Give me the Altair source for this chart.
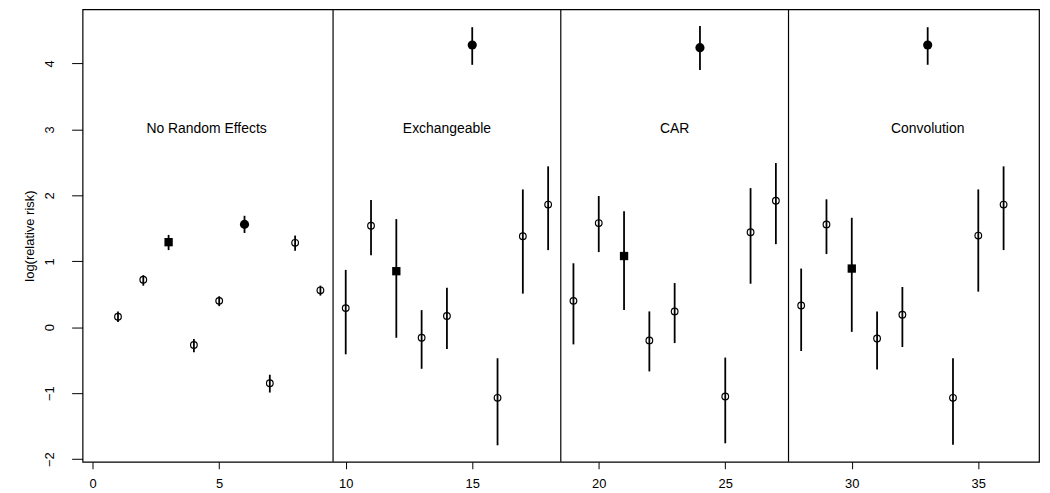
import altair as alt
import pandas as pd

# area index
area = list(range(1, 37))
# point estimates of log(relative risk)
est = [0.16, 0.72, 1.29, -0.27, 0.40, 1.56, -0.85, 1.28, 0.56,
       0.29, 1.54, 0.85, -0.16, 0.17, 4.28, -1.07, 1.38, 1.86,
       0.40, 1.58, 1.08, -0.20, 0.24, 4.24, -1.05, 1.44, 1.92,
       0.33, 1.56, 0.89, -0.17, 0.19, 4.28, -1.07, 1.39, 1.86]
# lower interval limits
lower = [0.08, 0.63, 1.17, -0.38, 0.32, 1.43, -0.99, 1.16, 0.48,
         -0.41, 1.09, -0.16, -0.63, -0.33, 3.98, -1.79, 0.51, 1.17,
         -0.26, 1.14, 0.26, -0.67, -0.24, 3.90, -1.76, 0.66, 1.26,
         -0.36, 1.11, -0.07, -0.64, -0.30, 3.98, -1.78, 0.54, 1.17]
# upper interval limits
upper = [0.24, 0.79, 1.40, -0.18, 0.47, 1.69, -0.72, 1.39, 0.63,
         0.87, 1.93, 1.64, 0.26, 0.60, 4.55, -0.47, 2.09, 2.44,
         0.97, 1.99, 1.76, 0.24, 0.67, 4.57, -0.46, 2.11, 2.49,
         0.89, 1.94, 1.66, 0.24, 0.61, 4.55, -0.47, 2.09, 2.44]
# marker kind per area
kind = (["open", "open", "square", "open", "open", "filled", "open", "open", "open"]
        + ["open", "open", "square", "open", "open", "filled", "open", "open", "open"]
        + ["open", "open", "square", "open", "open", "filled", "open", "open", "open"]
        + ["open", "open", "square", "open", "open", "filled", "open", "open", "open"])

# panel dividers and labels
divider_x = [9.5, 18.5, 27.5]
panel_names = ["No Random Effects", "Exchangeable", "CAR", "Convolution"]
panel_x = [4.5, 14.0, 23.0, 33.0]
panel_y = [3.0, 3.0, 3.0, 3.0]

x_ticks = [0, 5, 10, 15, 20, 25, 30, 35]
y_ticks = [-2, -1, 0, 1, 2, 3, 4]

df = pd.DataFrame({"area": area, "est": est, "lo": lower, "hi": upper, "kind": kind})
div_df = pd.DataFrame({"x": divider_x})
lab_df = pd.DataFrame({"x": panel_x, "y": panel_y, "name": panel_names})

FONT = "Liberation Sans"
PLOT_W = 962
PLOT_H = 455

xscale = alt.Scale(domain=[-0.4, 37.4], nice=False, zero=False)
yscale = alt.Scale(domain=[-2.04, 4.82], nice=False, zero=False)

xaxis = alt.Axis(values=x_ticks, format="d", title=None, grid=False, domain=False,
                 tickSize=7, tickColor="black", labelPadding=9,
                 labelFontSize=13, labelColor="black", labelFont=FONT)
yaxis = alt.Axis(values=y_ticks, format="d", title="log(relative risk)", grid=False,
                 domain=False, tickSize=11, tickColor="black", labelAngle=270,
                 labelAlign="center", labelBaseline="alphabetic", labelPadding=18,
                 labelFontSize=13, labelColor="black", labelFont=FONT,
                 titleFontSize=13, titleFontWeight="normal", titleColor="black",
                 titleFont=FONT, titleAngle=270, titleAlign="center",
                 titleBaseline="middle", titleX=-53, titleY=PLOT_H / 2)

base = alt.Chart(df)

rules = base.mark_rule(color="black", strokeWidth=1.8).encode(
    x=alt.X("area:Q", scale=xscale, axis=xaxis),
    y=alt.Y("lo:Q", scale=yscale, axis=yaxis),
    y2="hi:Q",
)

open_pts = base.transform_filter(alt.datum.kind == "open").mark_point(
    shape="circle", filled=False, size=45, color="black", strokeWidth=1.2, opacity=1
).encode(x="area:Q", y="est:Q")

filled_pts = base.transform_filter(alt.datum.kind == "filled").mark_point(
    shape="circle", filled=True, size=85, color="black", opacity=1
).encode(x="area:Q", y="est:Q")

square_pts = base.transform_filter(alt.datum.kind == "square").mark_point(
    shape="square", filled=True, size=70, color="black", opacity=1
).encode(x="area:Q", y="est:Q")

dividers = alt.Chart(div_df).mark_rule(color="black", strokeWidth=1.2).encode(
    x="x:Q"
)

labels = alt.Chart(lab_df).mark_text(
    font=FONT, fontSize=14, color="black", align="center", baseline="middle"
).encode(x="x:Q", y="y:Q", text="name:N")

chart = alt.layer(rules, open_pts, filled_pts, square_pts, dividers, labels).properties(
    width=PLOT_W, height=PLOT_H,
    autosize=alt.AutoSizeParams(type="none"),
    padding={"left": 75, "top": 0, "right": 3, "bottom": 30},
    background="white",
).configure_view(
    stroke="black", strokeWidth=1.2
)

chart.save("out.html", embed_options={"renderer": "svg", "actions": False})
